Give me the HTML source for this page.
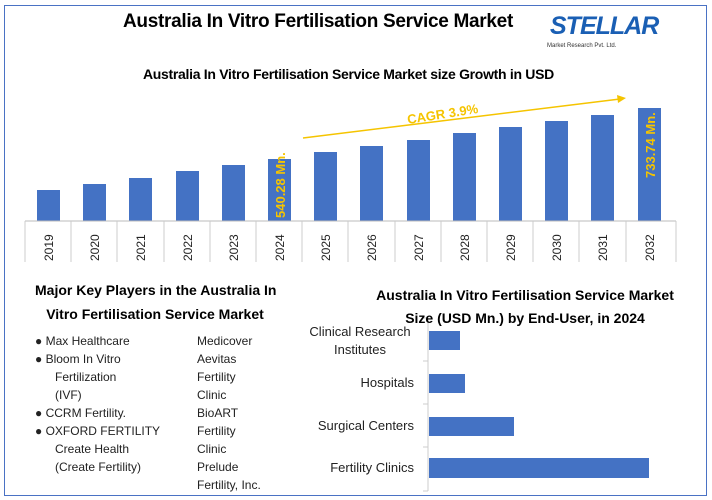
<!DOCTYPE html>
<html><head><meta charset="utf-8"><style>
body{margin:0;background:#fff;font-family:"Liberation Sans",sans-serif}
.t{position:absolute;white-space:nowrap}
</style></head><body>
<div style="position:relative;width:712px;height:500px;overflow:hidden">
<div style="position:absolute;left:4px;top:5px;width:701px;height:489px;border:1.5px solid #4a72c4"></div>
<div class="t" style="left:123px;top:11px;font-size:19px;font-weight:bold;letter-spacing:-0.3px">Australia In Vitro Fertilisation Service Market</div>
<div class="t" style="left:550px;top:12px;font-size:25px;font-weight:bold;color:#1a5fb4;letter-spacing:-1px;font-style:italic">STELLAR</div>
<div class="t" style="left:547px;top:43px;font-size:6px;color:#333">Market Research Pvt. Ltd.</div>
<div class="t" style="left:143px;top:66px;font-size:14px;font-weight:bold;letter-spacing:-0.3px">Australia In Vitro Fertilisation Service Market size Growth in USD</div>
<svg style="position:absolute;left:0;top:0" width="712" height="500">
<g fill="#4472c4">
<rect x="37" y="190" width="23" height="31"/><rect x="83" y="184" width="23" height="37"/><rect x="129" y="178" width="23" height="43"/><rect x="176" y="171" width="23" height="50"/><rect x="222" y="165" width="23" height="56"/><rect x="268" y="159" width="23" height="62"/><rect x="314" y="152" width="23" height="69"/><rect x="360" y="146" width="23" height="75"/><rect x="407" y="140" width="23" height="81"/><rect x="453" y="133" width="23" height="88"/><rect x="499" y="127" width="23" height="94"/><rect x="545" y="121" width="23" height="100"/><rect x="591" y="115" width="23" height="106"/><rect x="638" y="108" width="23" height="113"/>
</g>
<line x1="25" y1="221" x2="676" y2="221" stroke="#bbb"/>
<g stroke="#ccc"><line x1="25" y1="221" x2="25" y2="262"/><line x1="71" y1="221" x2="71" y2="262"/><line x1="117" y1="221" x2="117" y2="262"/><line x1="164" y1="221" x2="164" y2="262"/><line x1="210" y1="221" x2="210" y2="262"/><line x1="256" y1="221" x2="256" y2="262"/><line x1="302" y1="221" x2="302" y2="262"/><line x1="348" y1="221" x2="348" y2="262"/><line x1="395" y1="221" x2="395" y2="262"/><line x1="441" y1="221" x2="441" y2="262"/><line x1="487" y1="221" x2="487" y2="262"/><line x1="533" y1="221" x2="533" y2="262"/><line x1="579" y1="221" x2="579" y2="262"/><line x1="626" y1="221" x2="626" y2="262"/><line x1="676" y1="221" x2="676" y2="262"/></g>
<g font-size="12" fill="#222" font-family="Liberation Sans">
<text transform="translate(53,261) rotate(-90)">2019</text><text transform="translate(99,261) rotate(-90)">2020</text><text transform="translate(145,261) rotate(-90)">2021</text><text transform="translate(192,261) rotate(-90)">2022</text><text transform="translate(238,261) rotate(-90)">2023</text><text transform="translate(284,261) rotate(-90)">2024</text><text transform="translate(330,261) rotate(-90)">2025</text><text transform="translate(376,261) rotate(-90)">2026</text><text transform="translate(423,261) rotate(-90)">2027</text><text transform="translate(469,261) rotate(-90)">2028</text><text transform="translate(515,261) rotate(-90)">2029</text><text transform="translate(561,261) rotate(-90)">2030</text><text transform="translate(607,261) rotate(-90)">2031</text><text transform="translate(654,261) rotate(-90)">2032</text>
</g>
<g font-size="13" font-weight="bold" fill="#f5c400" font-family="Liberation Sans">
<text transform="translate(285,218) rotate(-90)">540.28 Mn.</text>
<text transform="translate(655,178) rotate(-90)">733.74 Mn.</text>
<text transform="translate(408,124) rotate(-9)">CAGR 3.9%</text>
</g>
<line x1="303" y1="138" x2="620" y2="99" stroke="#f5c400" stroke-width="1.5"/>
<polygon points="626,98 617,95 618,103" fill="#f5c400"/>
<line x1="428" y1="318" x2="428" y2="491" stroke="#ccc"/>
<g stroke="#ccc"><line x1="423" y1="318" x2="428" y2="318"/><line x1="423" y1="361" x2="428" y2="361"/><line x1="423" y1="404" x2="428" y2="404"/><line x1="423" y1="447" x2="428" y2="447"/><line x1="423" y1="491" x2="428" y2="491"/></g>
<g fill="#4472c4"><rect x="429" y="331" width="31" height="19"/><rect x="429" y="374" width="36" height="19"/><rect x="429" y="417" width="85" height="19"/><rect x="429" y="458" width="220" height="20"/></g>
</svg>
<div class="t" style="left:35px;top:278px;font-size:14px;font-weight:bold;line-height:24px;text-align:center;width:240px">Major Key Players in the Australia In<br>Vitro Fertilisation Service Market</div>
<div class="t" style="left:35px;top:332px;font-size:12px;line-height:18px;color:#222">● Max Healthcare<br>● Bloom In Vitro<br>&nbsp;&nbsp;&nbsp;&nbsp;&nbsp;&nbsp;Fertilization<br>&nbsp;&nbsp;&nbsp;&nbsp;&nbsp;&nbsp;(IVF)<br>● CCRM Fertility.<br>● OXFORD FERTILITY<br>&nbsp;&nbsp;&nbsp;&nbsp;&nbsp;&nbsp;Create Health<br>&nbsp;&nbsp;&nbsp;&nbsp;&nbsp;&nbsp;(Create Fertility)</div>
<div class="t" style="left:197px;top:332px;font-size:12px;line-height:18px;color:#222">Medicover<br>Aevitas<br>Fertility<br>Clinic<br>BioART<br>Fertility<br>Clinic<br>Prelude<br>Fertility, Inc.</div>
<div class="t" style="left:370px;top:284px;font-size:14px;font-weight:bold;line-height:23px;text-align:center;width:310px">Australia In Vitro Fertilisation Service Market<br>Size (USD Mn.) by End-User, in 2024</div>
<div class="t" style="left:290px;top:323px;font-size:13px;line-height:18px;text-align:center;width:140px;color:#222">Clinical Research<br>Institutes</div>
<div class="t" style="right:298px;top:375px;font-size:13px;color:#222">Hospitals</div>
<div class="t" style="right:298px;top:418px;font-size:13px;color:#222">Surgical Centers</div>
<div class="t" style="right:298px;top:460px;font-size:13px;color:#222">Fertility Clinics</div>
</div>
</body></html>
